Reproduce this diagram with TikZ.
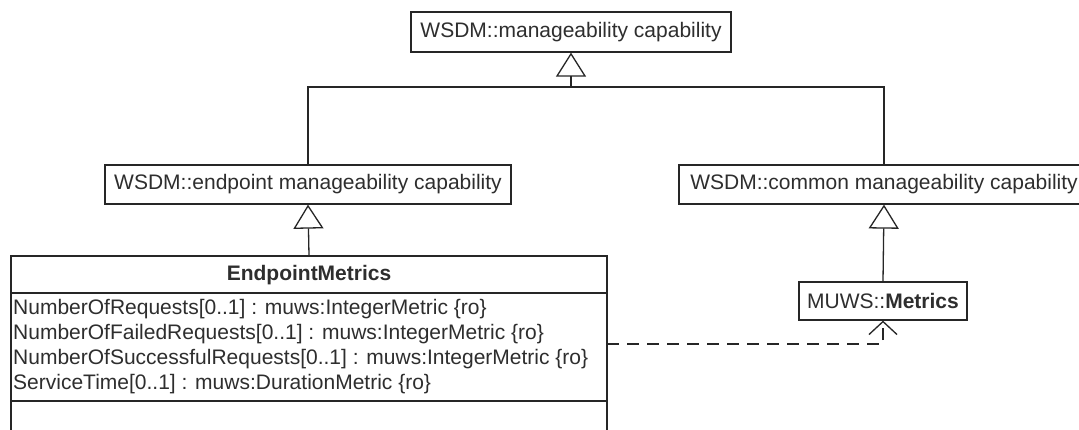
\documentclass[tikz,border=0pt]{standalone}
\usepackage{fontspec}
\setmainfont{Liberation Sans}
\usetikzlibrary{arrows.meta}
\definecolor{ink}{HTML}{262626}
\definecolor{txt}{HTML}{2E2E2E}
\begin{document}
\begin{tikzpicture}[x=1pt,y=-1pt,
  every node/.style={font=\fontsize{21}{24}\selectfont, text=txt, inner sep=0pt},
  umlbox/.style={draw=ink, line width=1.3pt, rectangle, anchor=center, align=center},
  attr/.style={anchor=west},
  link/.style={draw=ink, line width=1.3pt},
  gen/.style={link, -{Triangle[open, length=24pt, width=30pt]}},
  dep/.style={link, dash pattern=on 12pt off 8pt, -{Straight Barb[length=13pt, width=28pt]}}]
  \path[use as bounding box, clip] (0,0) rectangle (1079,430);
  \fill[white] (0,0) rectangle (1079,430);

  % capability hierarchy
  \node[umlbox, minimum width=320pt, minimum height=40pt] (top) at (571,32) {WSDM::manageability capability};
  \node[umlbox, minimum width=406pt, minimum height=39pt] (ep) at (308,184.5) {WSDM::endpoint manageability capability};
  \node[umlbox, minimum width=410pt, minimum height=39pt] (cm) at (884,184.5) {WSDM::common manageability capability};
  \node[umlbox, minimum width=168pt, minimum height=38pt] (mu) at (883,301) {MUWS::\textbf{Metrics}};

  % EndpointMetrics class with its compartments
  \node[umlbox, minimum width=596pt, minimum height=200pt] (em) at (309,356) {};
  \node (emname) at (309,275) {\textbf{EndpointMetrics}};
  \draw[link] (em.west |- 0,293) -- (em.east |- 0,293);
  \draw[link] (em.west |- 0,401) -- (em.east |- 0,401);
  \node[attr] (a1) at (13,309) {NumberOfRequests[0..1] : muws:IntegerMetric \{ro\}};
  \node[attr] (a2) at (13,334) {NumberOfFailedRequests[0..1] : muws:IntegerMetric \{ro\}};
  \node[attr] (a3) at (13,359) {NumberOfSuccessfulRequests[0..1] : muws:IntegerMetric \{ro\}};
  \node[attr] (a4) at (13,384) {ServiceTime[0..1] : muws:DurationMetric \{ro\}};

  % generalisations
  \coordinate (bus) at (571,87);
  \draw[link] (ep.north) |- (bus) -| (cm.north);
  \draw[gen] (top.south |- bus) -- (top.south);
  \draw[gen] (em.north) -- (ep.south);
  \draw[gen] (mu.north) -- (cm.south);

  % dependency
  \coordinate (dstart) at (607,344);
  \draw[dep] (dstart) -| (mu.south);
\end{tikzpicture}
\end{document}
